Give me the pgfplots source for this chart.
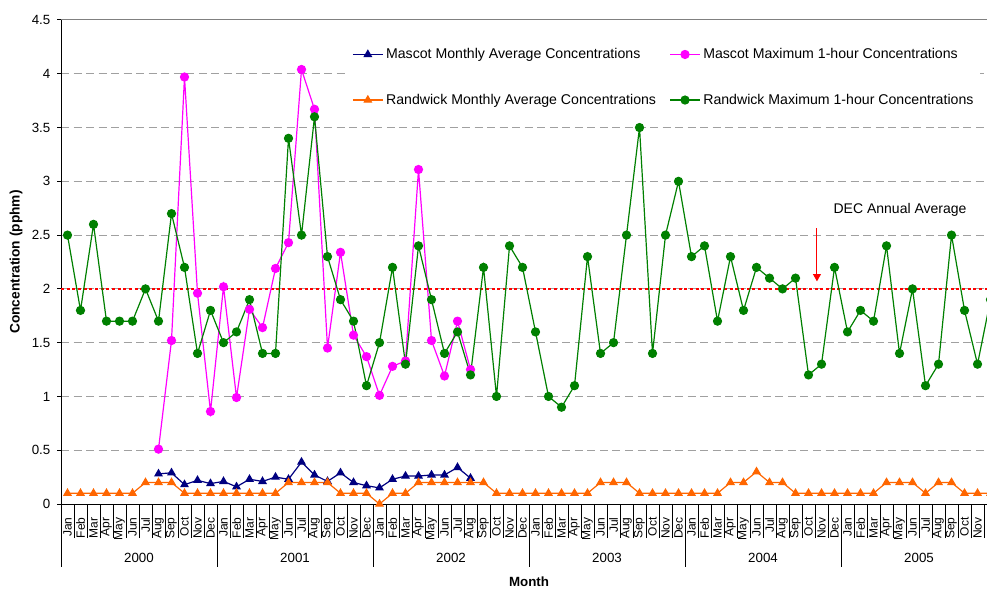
\documentclass[border=0pt]{standalone}
\usepackage{fontspec}
\setmainfont{Liberation Sans}
\usepackage{pgfplots}
\usepackage{pgfplotstable}
\pgfplotsset{compat=1.18}
\usetikzlibrary{arrows.meta}
\definecolor{mnavy}{HTML}{000080}
\definecolor{mmag}{HTML}{FF00FF}
\definecolor{rorange}{HTML}{FF6600}
\definecolor{rgreen}{HTML}{008000}
\definecolor{gridgray}{HTML}{A0A0A0}

\pgfplotstableread{
x y
7 0.28
8 0.29
9 0.18
10 0.22
11 0.19
12 0.21
13 0.16
14 0.23
15 0.21
16 0.25
17 0.23
18 0.39
19 0.27
20 0.21
21 0.29
22 0.20
23 0.17
24 0.15
25 0.23
26 0.26
27 0.26
28 0.27
29 0.27
30 0.34
31 0.24
}\mascotavg

\pgfplotstableread{
x y
7 0.51
8 1.52
9 3.97
10 1.96
11 0.86
12 2.02
13 0.99
14 1.81
15 1.64
16 2.19
17 2.43
18 4.04
19 3.67
20 1.45
21 2.34
22 1.57
23 1.37
24 1.01
25 1.28
26 1.33
27 3.11
28 1.52
29 1.19
30 1.70
31 1.25
}\mascotmax

\pgfplotstableread{
x y
0 0.1
1 0.1
2 0.1
3 0.1
4 0.1
5 0.1
6 0.2
7 0.2
8 0.2
9 0.1
10 0.1
11 0.1
12 0.1
13 0.1
14 0.1
15 0.1
16 0.1
17 0.2
18 0.2
19 0.2
20 0.2
21 0.1
22 0.1
23 0.1
24 0.0
25 0.1
26 0.1
27 0.2
28 0.2
29 0.2
30 0.2
31 0.2
32 0.2
33 0.1
34 0.1
35 0.1
36 0.1
37 0.1
38 0.1
39 0.1
40 0.1
41 0.2
42 0.2
43 0.2
44 0.1
45 0.1
46 0.1
47 0.1
48 0.1
49 0.1
50 0.1
51 0.2
52 0.2
53 0.3
54 0.2
55 0.2
56 0.1
57 0.1
58 0.1
59 0.1
60 0.1
61 0.1
62 0.1
63 0.2
64 0.2
65 0.2
66 0.1
67 0.2
68 0.2
69 0.1
70 0.1
71 0.1
}\randavg

\pgfplotstableread{
x y
0 2.5
1 1.8
2 2.6
3 1.7
4 1.7
5 1.7
6 2.0
7 1.7
8 2.7
9 2.2
10 1.4
11 1.8
12 1.5
13 1.6
14 1.9
15 1.4
16 1.4
17 3.4
18 2.5
19 3.6
20 2.3
21 1.9
22 1.7
23 1.1
24 1.5
25 2.2
26 1.3
27 2.4
28 1.9
29 1.4
30 1.6
31 1.2
32 2.2
33 1.0
34 2.4
35 2.2
36 1.6
37 1.0
38 0.9
39 1.1
40 2.3
41 1.4
42 1.5
43 2.5
44 3.5
45 1.4
46 2.5
47 3.0
48 2.3
49 2.4
50 1.7
51 2.3
52 1.8
53 2.2
54 2.1
55 2.0
56 2.1
57 1.2
58 1.3
59 2.2
60 1.6
61 1.8
62 1.7
63 2.4
64 1.4
65 2.0
66 1.1
67 1.3
68 2.5
69 1.8
70 1.3
71 1.9
}\randmax

\begin{document}
\begin{tikzpicture}[font=\fontsize{10}{12}\selectfont]
\begin{axis}[
  scale only axis, width=694.5pt, height=363pt,
  xmin=-0.5, xmax=70.73, ymin=0, ymax=4.5,
  axis x line*=bottom, axis y line*=left,
  axis line style={black, line width=0.75pt},
  clip=false,
  ytick={0,0.5,...,4.5},
  ymajorgrids,
  grid style={gridgray, dash pattern=on 6pt off 3.4pt, line width=0.75pt},
  tick align=outside,
  major tick length=3pt,
  ytick style={black, line width=0.75pt},
  yticklabel style={xshift=-1.5pt, font=\fontsize{10}{12}\selectfont},
  xtick={-0.5,0.5,...,70.5}, xticklabels={},
  xtick style={black, line width=0.75pt, /pgfplots/major tick length=25.5pt, /pgfplots/minor tick length=47pt},
  minor xtick={-0.5,11.5,23.5,35.5,47.5,59.5},
  extra x ticks={0,1,...,71},
  extra x tick labels={Jan,Feb,Mar,Apr,May,Jun,Jul,Aug,Sep,Oct,Nov,Dec,Jan,Feb,Mar,Apr,May,Jun,Jul,Aug,Sep,Oct,Nov,Dec,Jan,Feb,Mar,Apr,May,Jun,Jul,Aug,Sep,Oct,Nov,Dec,Jan,Feb,Mar,Apr,May,Jun,Jul,Aug,Sep,Oct,Nov,Dec,Jan,Feb,Mar,Apr,May,Jun,Jul,Aug,Sep,Oct,Nov,Dec,Jan,Feb,Mar,Apr,May,Jun,Jul,Aug,Sep,Oct,Nov,Dec},
  extra x tick style={tick style={draw=none}, xticklabel style={yshift=-6pt, rotate=90, anchor=east, inner sep=1pt, font=\fontsize{9}{10.8}\selectfont}},
  /pgf/number format/assume math mode=true,
  ylabel={\textbf{Concentration (pphm)}},
  ylabel style={at={([xshift=-33.75pt]rel axis cs:0,0.5)}, anchor=center, font=\fontsize{10.3}{12}\selectfont},
  legend columns=2,
  legend cell align=left,
  legend image code/.code={\draw[mark repeat=2,mark phase=2,#1] plot coordinates {(0pt,0pt) (11.25pt,0pt) (22.5pt,0pt)};},
  legend style={draw=none, fill=white, at={(rel axis cs:0.3099,0.953)}, anchor=north west,
    font=\fontsize{10.6}{12.7}\selectfont, row sep=21pt,
    /tikz/every even column/.append style={column sep=8pt}},
]
\addplot[red, line width=1.5pt, dash pattern=on 2.25pt off 2pt, forget plot] coordinates {(-0.5,2) (70.73,2)};
\addplot[mnavy, line width=0.9pt, mark=triangle*, mark size=3pt, mark options={solid}] table[x=x,y=y] {\mascotavg};
\addlegendentry{Mascot Monthly Average Concentrations}
\addplot[mmag, line width=0.9pt, mark=*, mark size=3pt, mark options={solid}] table[x=x,y=y] {\mascotmax};
\addlegendentry{Mascot Maximum 1-hour Concentrations}
\addplot[rorange, line width=0.9pt, mark=triangle*, mark size=3pt, mark options={solid}] table[x=x,y=y] {\randavg};
\addlegendentry{Randwick Monthly Average Concentrations}
\addplot[rgreen, line width=0.9pt, mark=*, mark size=3pt, mark options={solid}] table[x=x,y=y] {\randmax};
\addlegendentry{Randwick Maximum 1-hour Concentrations}
\draw[gray, line width=0.75pt] (rel axis cs:0,1) -- (rel axis cs:1,1);
\draw[red, line width=0.75pt, -{Triangle[length=5.5pt,width=6pt]}] (axis cs:57.65,2.565) -- (axis cs:57.65,2.07);
\node[font=\fontsize{10.5}{12.6}\selectfont] at (axis cs:64.04,2.73) {DEC Annual Average};
\node at ([yshift=-40.5pt]axis cs:5.5,0) {2000};
\node at ([yshift=-40.5pt]axis cs:17.5,0) {2001};
\node at ([yshift=-40.5pt]axis cs:29.5,0) {2002};
\node at ([yshift=-40.5pt]axis cs:41.5,0) {2003};
\node at ([yshift=-40.5pt]axis cs:53.5,0) {2004};
\node at ([yshift=-40.5pt]axis cs:65.5,0) {2005};
\node[font=\fontsize{10}{12}\selectfont\bfseries] at ([yshift=-58pt]axis cs:35.5,0) {Month};
\coordinate (ll) at (rel axis cs:0,0);
\coordinate (ur) at (rel axis cs:1,1);
\end{axis}
\pgfresetboundingbox
\path[use as bounding box] ([shift={(-45.75pt,-63pt)}]ll) rectangle ([shift={(0pt,15pt)}]ur);
\end{tikzpicture}
\end{document}
